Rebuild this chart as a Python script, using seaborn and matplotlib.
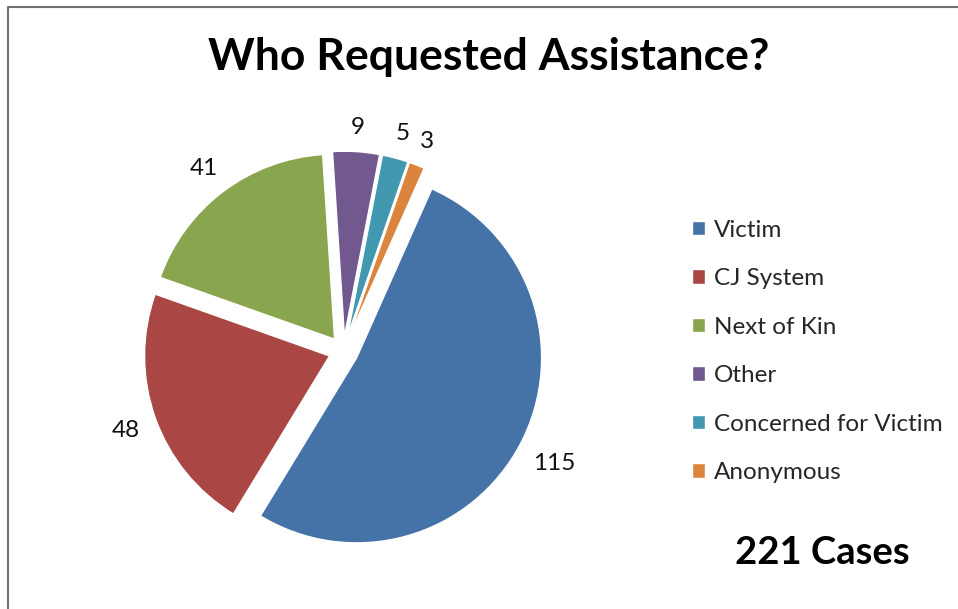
import matplotlib
matplotlib.use("Agg")
import numpy as np
import matplotlib.pyplot as plt
from matplotlib.lines import Line2D
import seaborn as sns

# Who requested assistance, by requester type
categories = ["Victim", "CJ System", "Next of Kin", "Other",
              "Concerned for Victim", "Anonymous"]
counts = [115, 48, 41, 9, 5, 3]
colors = ["#4572A7", "#AA4643", "#89A54E", "#71588F", "#4198AF", "#DB843D"]
title = "Who Requested Assistance?"
total_label = f"{sum(counts)} Cases"

sns.set_theme(style="white")
plt.rcParams["font.family"] = ["Lato", "DejaVu Sans"]

W, H = 958, 609
fig = plt.figure(figsize=(W / 100, H / 100), dpi=100)
fig.patch.set_facecolor("white")

# square axes holding the pie (radius 1 in data units)
lim = 1.35
R_px = 185.0
cx_px, cy_px = 343.5, 351.0
side = 2 * lim * R_px
ax = fig.add_axes([(cx_px - side / 2) / W,
                   (H - cy_px - side / 2) / H,
                   side / W, side / H])

total = sum(counts)
wedges, _, autotexts = ax.pie(
    counts,
    colors=colors,
    startangle=66,
    counterclock=False,
    explode=[0.08] * len(counts),
    radius=1.0,
    autopct=lambda p: f"{round(p * total / 100)}",
    pctdistance=1.17,
    wedgeprops=dict(edgecolor="white", linewidth=1.0),
    textprops=dict(fontsize=17.5, color="#111111"),
)
ax.set_xlim(-lim, lim)
ax.set_ylim(-lim, lim)
ax.set_aspect("equal")
ax.axis("off")

# place each value label just outside its wedge's outer edge
fig.canvas.draw()
renderer = fig.canvas.get_renderer()
px_per_unit = ax.transData.transform((1, 0))[0] - ax.transData.transform((0, 0))[0]
gap_px = 15.0
for w, t in zip(wedges, autotexts):
    theta = np.deg2rad((w.theta1 + w.theta2) / 2)
    ux, uy = np.cos(theta), np.sin(theta)
    t.set_va("center_baseline")
    bb = t.get_window_extent(renderer)
    hw, hh = bb.width / 2, bb.height / 2
    dist = w.r + (gap_px + abs(ux) * hw + abs(uy) * hh) / px_per_unit
    cx, cy = w.center
    t.set_position((cx + dist * ux, cy + dist * uy))

fig.text(489 / W, 1 - 57 / H, title, ha="center", va="center",
         fontsize=32, fontweight="bold", color="black")

fig.legend(wedges, categories, loc="center left",
           bbox_to_anchor=(692 / W, 1 - 351.5 / H),
           frameon=False, fontsize=17.5,
           handlelength=0.54, handleheight=0.54, handletextpad=0.35,
           labelspacing=1.13, borderpad=0, borderaxespad=0)

fig.text(822 / W, 1 - 553 / H, total_label, ha="center", va="center",
         fontsize=27.5, fontweight="bold", color="black")

# chart frame (left and top edges)
bx, by = 7.5 / W, 1 - 6.5 / H
fig.add_artist(Line2D([bx, bx, 1.0], [0.0, by, by], transform=fig.transFigure,
                      color="#707070", linewidth=1.5))

fig.savefig("out.png", dpi=100, facecolor="white")
